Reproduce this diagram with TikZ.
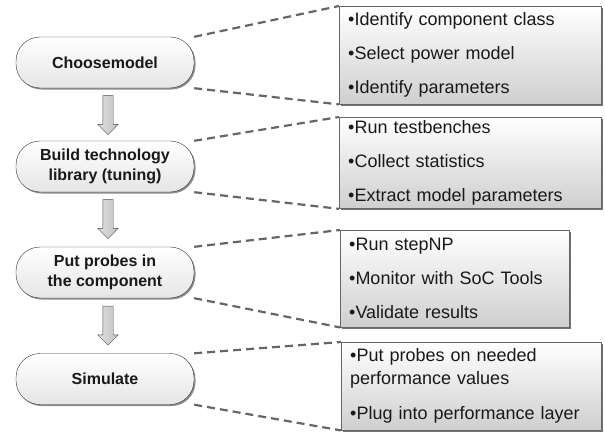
\documentclass[tikz,border=0pt]{standalone}
\usepackage{fontspec}
\setmainfont{Liberation Sans}
\usetikzlibrary{shapes.arrows,shadows,backgrounds}

\begin{document}
\begin{tikzpicture}[x=1pt, y=-1pt,
	stage/.style={draw=black!80, rounded corners=24pt, minimum width=178pt, minimum height=51pt, align=center, text=black!90, font=\fontsize{16}{20}\selectfont\bfseries, top color=white, bottom color=black!10, drop shadow={shadow xshift=1.5pt, shadow yshift=-1.5pt, fill=black!45, opacity=1}},
	detail/.style={draw=black!60, anchor=north west, inner xsep=9pt, align=left, text=black!90, font=\fontsize{18}{23}\selectfont, top color=white, bottom color=black!19, drop shadow={shadow xshift=1.5pt, shadow yshift=-1.5pt, fill=black!55, opacity=1}},
	flow/.style={single arrow, shape border rotate=270, draw=black!70, left color=black!12, right color=black!25, minimum height=39pt, minimum width=20pt, single arrow head extend=5pt, single arrow head indent=0pt, inner sep=5pt},
	link/.style={draw=black!60, line width=2.2pt, dash pattern=on 8pt off 5pt}]
	\useasboundingbox (0,0) rectangle (605,431);
	
	%stages
	\node[stage] (choose) at (105,62.5){Choosemodel};
	\node[stage] (build) at (105,166.5){Build technology\\library\ (tuning)};
	\node[stage] (probes) at (105,272.5){Put probes in\\the\ component};
	\node[stage] (simulate) at (105,379){Simulate};
	
	%arrows between stages
	\node[flow] (arrA) at (108,112.5){};
	\node[flow] (arrB) at (108,216.5){};
	\node[flow] (arrC) at (108,323){};
	
	%details
	\node[detail, minimum width=262pt, minimum height=98pt, text width=244pt] (chooseinfo) at (339,6)
		{•Identify component class\\[11pt]•Select power model\\[11pt]•Identify parameters};
	\node[detail, minimum width=262pt, minimum height=90pt, text width=244pt] (buildinfo) at (339,117)
		{•Run testbenches\\[11pt]•Collect statistics\\[11pt]•Extract model parameters};
	\node[detail, minimum width=229pt, minimum height=97pt, text width=211pt] (probesinfo) at (340,230)
		{•Run stepNP\\[11pt]•Monitor with SoC Tools\\[11pt]•Validate results};
	\node[detail, minimum width=260pt, minimum height=88pt, text width=242pt] (simulateinfo) at (341,342)
		{•Put probes on needed\\performance values\\[12pt]•Plug into performance layer};
	
	%dashed links
	\begin{scope}[on background layer]
		\foreach \s in {choose, build, probes, simulate}{
			\draw[link] (\s.north east) -- (\s info.north west);
			\draw[link] (\s.south east) -- (\s info.south west);
		}
	\end{scope}
\end{tikzpicture}
\end{document}
